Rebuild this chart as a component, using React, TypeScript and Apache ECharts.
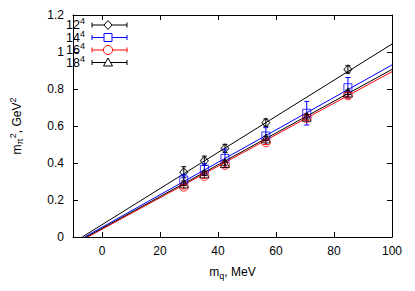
import React, { useEffect, useRef } from "react";
import * as echarts from "echarts";

const xTicks = [0, 20, 40, 60, 80, 100];
const legendNames = ["12", "14", "16", "18"];
const colors = ["#000000", "#0000ff", "#ff0000", "#000000"];
const symbols = ["diamond", "rect", "circle", "triangle"];

// [m_q, m_pi^2, error]
const data12 = [
  [28.2, 0.35, 0.03],
  [35.3, 0.412, 0.025],
  [42.4, 0.479, 0.022],
  [56.5, 0.618, 0.02],
  [84.8, 0.906, 0.02],
];
const data14 = [
  [28.2, 0.308, 0.03],
  [35.3, 0.366, 0.03],
  [42.4, 0.425, 0.05],
  [56.5, 0.546, 0.045],
  [70.6, 0.669, 0.064],
  [84.8, 0.807, 0.055],
];
const data16 = [
  [28.2, 0.272, 0.012],
  [35.3, 0.33, 0.012],
  [42.4, 0.39, 0.012],
  [56.5, 0.512, 0.012],
  [70.6, 0.643, 0.012],
  [84.8, 0.766, 0.015],
];
const data18 = [
  [28.2, 0.29, 0.012],
  [35.3, 0.344, 0.012],
  [42.4, 0.4, 0.012],
  [56.5, 0.533, 0.012],
  [70.6, 0.65, 0.012],
  [84.8, 0.782, 0.012],
];
// fit lines: [x-intercept, 0] -> [100, value]
const fit12 = [[-6.8, 0], [100, 1.043]];
const fit14 = [[-6.0, 0], [100, 0.93]];
const fit16 = [[-4.9, 0], [100, 0.894]];
const fit18 = [[-5.4, 0], [100, 0.906]];

const allData = [data12, data14, data16, data18];
const allFits = [fit12, fit14, fit16, fit18];

const FONT = "Liberation Sans, Arial, Helvetica, sans-serif";

export default function App() {
  const ref = useRef<HTMLDivElement>(null);
  useEffect(() => {
    document.body.style.margin = "0";
    const chart = echarts.init(ref.current!, undefined, { renderer: "svg" });
    const series: any[] = [];
    allFits.forEach((f, i) => {
      series.push({
        type: "line",
        data: f,
        symbol: "none",
        lineStyle: { color: colors[i], width: 1 },
        z: 2,
        silent: true,
      });
    });
    allData.forEach((d, i) => {
      series.push({
        type: "custom",
        data: d,
        z: 3 + i,
        renderItem: (params: any, api: any) => {
          const x = api.value(0);
          const y = api.value(1);
          const e = api.value(2);
          const p1 = api.coord([x, y + e]);
          const p2 = api.coord([x, y - e]);
          const st = { stroke: colors[i], lineWidth: 1 };
          return {
            type: "group",
            children: [
              { type: "line", shape: { x1: p1[0], y1: p1[1], x2: p2[0], y2: p2[1] }, style: st },
              { type: "line", shape: { x1: p1[0] - 2.5, y1: p1[1], x2: p1[0] + 2.5, y2: p1[1] }, style: st },
              { type: "line", shape: { x1: p2[0] - 2.5, y1: p2[1], x2: p2[0] + 2.5, y2: p2[1] }, style: st },
            ],
          };
        },
      });
      series.push({
        type: "scatter",
        data: d.map((p) => [p[0], p[1]]),
        symbol: symbols[i],
        symbolSize: i === 0 ? [8, 9] : i === 1 ? 8 : 9,
        itemStyle: { color: "rgba(0,0,0,0)", borderColor: colors[i], borderWidth: 1 },
        z: 3 + i,
      });
    });

    const graphics: any[] = [];
    legendNames.forEach((n, i) => {
      const y = 25 + i * 12.5;
      const c = colors[i];
      graphics.push({
        type: "text",
        x: 85,
        y: y,
        style: {
          text: "{a|" + n + "}{s|4}",
          align: "right",
          verticalAlign: "middle",
          rich: {
            a: { fontSize: 12.5, fontFamily: FONT, fill: "#000" },
            s: { fontSize: 9, fontFamily: FONT, fill: "#000", padding: [0, 0, 8, 0] },
          },
        },
      });
      graphics.push({ type: "line", shape: { x1: 92, y1: y, x2: 127, y2: y }, style: { stroke: c, lineWidth: 1 } });
      graphics.push({ type: "line", shape: { x1: 92, y1: y - 2.5, x2: 92, y2: y + 2.5 }, style: { stroke: c, lineWidth: 1 } });
      graphics.push({ type: "line", shape: { x1: 127, y1: y - 2.5, x2: 127, y2: y + 2.5 }, style: { stroke: c, lineWidth: 1 } });
      const st = { stroke: c, lineWidth: 1, fill: "#fff" };
      if (i === 0) {
        graphics.push({ type: "polygon", shape: { points: [[108, y - 4.5], [112, y], [108, y + 4.5], [104, y]] }, style: st });
      } else if (i === 1) {
        graphics.push({ type: "rect", shape: { x: 104, y: y - 4, width: 8, height: 8 }, style: st });
      } else if (i === 2) {
        graphics.push({ type: "circle", shape: { cx: 108, cy: y, r: 4.5 }, style: st });
      } else {
        graphics.push({ type: "polygon", shape: { points: [[108, y - 4.5], [112.5, y + 3.5], [103.5, y + 3.5]] }, style: st });
      }
    });

    const axisLine = { show: true, onZero: false, lineStyle: { color: "#000", width: 1 } };
    const tick = { show: true, inside: true, length: 5, lineStyle: { color: "#000" } };
    const label = { color: "#000", fontSize: 12, fontFamily: FONT };

    chart.setOption({
      animation: false,
      backgroundColor: "#fff",
      grid: { left: 62, right: 23, top: 15, bottom: 54 },
      xAxis: [
        {
          type: "value",
          min: -10,
          max: 100,
          position: "bottom",
          axisLine,
          axisTick: { ...tick, customValues: xTicks },
          axisLabel: { ...label, margin: 8, customValues: xTicks },
          splitLine: { show: false },
          name: "{a|m}{b|q}{a|, MeV}",
          nameLocation: "middle",
          nameGap: 27,
          nameTextStyle: {
            rich: {
              a: { fontSize: 12, fontFamily: FONT, color: "#000" },
              b: { fontSize: 9, fontFamily: FONT, color: "#000", padding: [7, 0, 0, 0] },
            },
          },
        },
        {
          type: "value",
          min: -10,
          max: 100,
          position: "top",
          axisLine,
          axisTick: { ...tick, customValues: xTicks },
          axisLabel: { show: false },
          splitLine: { show: false },
        },
      ],
      yAxis: [
        {
          type: "value",
          min: 0,
          max: 1.2,
          interval: 0.2,
          position: "left",
          axisLine,
          axisTick: tick,
          axisLabel: { ...label, margin: 9 },
          splitLine: { show: false },
          name: "{a|m}{b|π}{c|2}{a|, GeV}{c|2}",
          nameLocation: "middle",
          nameGap: 48,
          nameRotate: 90,
          nameTextStyle: {
            rich: {
              a: { fontSize: 12, fontFamily: FONT, color: "#000" },
              b: { fontSize: 9, fontFamily: FONT, color: "#000", padding: [7, 0, 0, 0] },
              c: { fontSize: 9, fontFamily: FONT, color: "#000", padding: [0, 0, 8, 0] },
            },
          },
        },
        {
          type: "value",
          min: 0,
          max: 1.2,
          interval: 0.2,
          position: "right",
          axisLine,
          axisTick: tick,
          axisLabel: { show: false },
          splitLine: { show: false },
        },
      ],
      series,
      graphic: graphics,
    });
    return () => chart.dispose();
  }, []);
  return <div ref={ref} style={{ position: "fixed", left: 0, top: 0, width: 415, height: 291 }} />;
}
